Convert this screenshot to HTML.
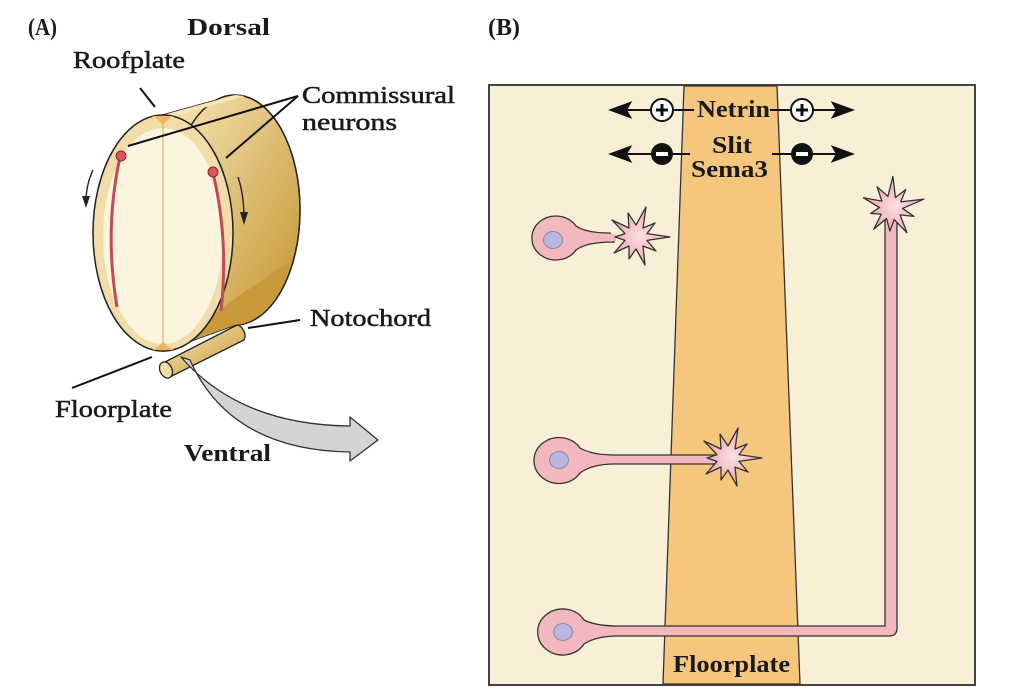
<!DOCTYPE html>
<html><head><meta charset="utf-8"><style>
html,body{margin:0;padding:0;background:#fff}
svg{display:block}
text{font-family:"Liberation Serif",serif;fill:#1a1a1a}
.n{stroke:#1a1a1a;stroke-width:0.5}
</style></head><body>
<svg width="1013" height="691" viewBox="0 0 1013 691" xmlns="http://www.w3.org/2000/svg">
<defs>
<linearGradient id="side" x1="0" y1="0" x2="1" y2="1">
<stop offset="0" stop-color="#f6e6b8"/><stop offset="1" stop-color="#c4942e"/></linearGradient>
<linearGradient id="noto" x1="0" y1="0" x2="1" y2="1">
<stop offset="0" stop-color="#f7e6b5"/><stop offset="1" stop-color="#c79a3a"/></linearGradient>
<radialGradient id="gc"><stop offset="0" stop-color="#fbe0e2"/><stop offset="1" stop-color="#eea6ad"/></radialGradient>
<g id="star"><path d="M34,0 L11,3.4 L20,14 L7,9 L9,28 L0,12 L-7,22 L-7,9 L-22,16 L-11,3.4 L-21,0 L-11,-3.4 L-24,-17 L-7,-9 L-8,-24 L0,-12 L10,-30 L7,-9 L19,-14 L11,-3.4 Z" fill="url(#gc)" stroke="#333" stroke-width="1.3" stroke-linejoin="round"/></g>
</defs>

<g font-size="24">
<text x="28" y="35" font-weight="bold" textLength="29" lengthAdjust="spacingAndGlyphs">(A)</text>
<text x="187" y="35" font-weight="bold" textLength="83" lengthAdjust="spacingAndGlyphs">Dorsal</text>
<text class="n" x="73" y="68" textLength="112" lengthAdjust="spacingAndGlyphs">Roofplate</text>
<text class="n" x="302" y="103" textLength="153" lengthAdjust="spacingAndGlyphs">Commissural</text>
<text class="n" x="302" y="130" textLength="95" lengthAdjust="spacingAndGlyphs">neurons</text>
<text class="n" x="310" y="326" textLength="121" lengthAdjust="spacingAndGlyphs">Notochord</text>
<text class="n" x="55" y="417" textLength="117" lengthAdjust="spacingAndGlyphs">Floorplate</text>
<text x="184" y="461" font-weight="bold" textLength="87" lengthAdjust="spacingAndGlyphs">Ventral</text>
</g>

<path d="M163,115 L235,95 A65,115 0 0 1 235,325 L163,351 Z" fill="url(#side)" stroke="#222" stroke-width="1.5"/>
<ellipse cx="235" cy="210" rx="65" ry="115" fill="url(#side)" stroke="#222" stroke-width="1.5"/>
<path d="M163,115 L235,95 L245,96 L175,116 Z" fill="#f6e6b8"/>
<path d="M163,351 L235,325 A65,115 0 0 0 292,260 L233,300 Z" fill="#c8993a"/>
<ellipse cx="163" cy="233" rx="70" ry="118" fill="#f2ddaa" stroke="#222" stroke-width="1.5"/>
<ellipse cx="163" cy="236" rx="60" ry="108" fill="#fdf4df"/>
<line x1="163" y1="126" x2="163" y2="342" stroke="#c9a25a" stroke-width="1"/>
<path d="M152,116 Q163,122 163,128 Q163,122 174,116 Z" fill="#f3b65f"/>
<path d="M152,350 Q163,344 163,340 Q163,344 174,350 Z" fill="#f3b65f"/>
<path d="M120,157 Q104,230 117,307" fill="none" stroke="#c04b55" stroke-width="3"/>
<circle cx="121" cy="156" r="5" fill="#d9585f" stroke="#8a2a30"/>
<path d="M213,173 Q229,240 221,311" fill="none" stroke="#c04b55" stroke-width="3"/>
<circle cx="213" cy="172" r="5" fill="#d9585f" stroke="#8a2a30"/>
<path d="M93,170 Q86,185 86,202" fill="none" stroke="#222" stroke-width="1.4"/>
<path d="M82,196 L86,208 L90,196 Z" fill="#222"/>
<path d="M238,177 Q244,195 244,218" fill="none" stroke="#222" stroke-width="1.4"/>
<path d="M240,212 L244,225 L248,212 Z" fill="#222"/>
<line x1="140" y1="88" x2="155" y2="107" stroke="#111" stroke-width="2"/>
<line x1="298" y1="96" x2="128" y2="146" stroke="#111" stroke-width="2"/>
<line x1="298" y1="96" x2="226" y2="158" stroke="#111" stroke-width="2"/>
<line x1="248" y1="328" x2="300" y2="320" stroke="#111" stroke-width="2"/>
<line x1="72" y1="388" x2="152" y2="357" stroke="#111" stroke-width="2"/>
<path d="M163,363 L237,325 A6,9 -25 0 1 244,340 L170,377 Z" fill="url(#noto)" stroke="#222" stroke-width="1.3"/>
<ellipse cx="166" cy="370" rx="6" ry="8.5" transform="rotate(-25 166 370)" fill="#f1dca4" stroke="#222" stroke-width="1.3"/>
<path d="M181,357 Q240,425 350,426 L350,417 L378,440 L350,461 L350,452 Q230,450 190,360 Z" fill="#d4d4d6" stroke="#333" stroke-width="1.3" stroke-linejoin="round"/>

<text x="488" y="35" font-size="24" font-weight="bold" textLength="32" lengthAdjust="spacingAndGlyphs">(B)</text>
<rect x="489" y="85" width="486" height="600" fill="#f9efd6" stroke="#444" stroke-width="2"/>
<path d="M684,86 L777,86 L800,684 L663,684 Z" fill="#f5c77e" stroke="#333" stroke-width="1.3"/>
<g font-size="24" font-weight="bold">
<text x="697" y="117" textLength="73" lengthAdjust="spacingAndGlyphs">Netrin</text>
<text x="712" y="153" textLength="40" lengthAdjust="spacingAndGlyphs">Slit</text>
<text x="691" y="177" textLength="77" lengthAdjust="spacingAndGlyphs">Sema3</text>
<text x="673" y="672" textLength="117" lengthAdjust="spacingAndGlyphs">Floorplate</text>
</g>
<g stroke="#111" stroke-width="2" fill="#111">
<line x1="622" y1="110" x2="694" y2="110"/>
<path d="M611,110 L630,103 L626,110 L630,117 Z"/>
<line x1="770" y1="110" x2="840" y2="110"/>
<path d="M852,110 L833,103 L837,110 L833,117 Z"/>
<line x1="622" y1="154" x2="690" y2="154"/>
<path d="M611,154 L630,147 L626,154 L630,161 Z"/>
<line x1="772" y1="154" x2="840" y2="154"/>
<path d="M852,154 L833,147 L837,154 L833,161 Z"/>
</g>
<circle cx="662" cy="110" r="11" fill="#fff" stroke="#111" stroke-width="2"/>
<rect x="656" y="108.5" width="12" height="3" fill="#111"/><rect x="660.5" y="104" width="3" height="12" fill="#111"/>
<circle cx="802" cy="110" r="11" fill="#fff" stroke="#111" stroke-width="2"/>
<rect x="796" y="108.5" width="12" height="3" fill="#111"/><rect x="800.5" y="104" width="3" height="12" fill="#111"/>
<circle cx="662" cy="154" r="11" fill="#111"/>
<rect x="656" y="152" width="12" height="4" fill="#fff"/>
<circle cx="802" cy="154" r="11" fill="#111"/>
<rect x="796" y="152" width="12" height="4" fill="#fff"/>

<g fill="#f2b8bd" stroke="#333" stroke-width="1.3">
<path d="M576,226 Q586,233 610,233 L614,242 Q586,242 576,250 A24,22 0 1 1 576,226 Z"/>
<path d="M580,448 Q592,455 615,455 L715,455 L715,464 L615,464 Q592,464 580,473 A25,23 0 1 1 580,448 Z"/>
<path d="M584,620 Q596,626 618,626 L885,626 L885,220 L897,220 L897,628 Q897,636 889,636 L618,636 Q596,636 584,644 A25,23 0 1 1 584,620 Z"/>
</g>
<g fill="#f2b8bd"><rect x="600" y="234" width="16" height="7"/><rect x="700" y="456" width="20" height="7"/><rect x="886" y="215" width="10" height="15"/></g>
<ellipse cx="553" cy="240" rx="9.5" ry="8.5" fill="#b8b6de" stroke="#8a88b0"/>
<ellipse cx="559" cy="460" rx="9.5" ry="8.5" fill="#b8b6de" stroke="#8a88b0"/>
<ellipse cx="563" cy="632" rx="9.5" ry="8.5" fill="#b8b6de" stroke="#8a88b0"/>
<use href="#star" transform="translate(636,237)"/>
<use href="#star" transform="translate(728,458)"/>
<use href="#star" transform="translate(891,208) rotate(-15)"/>
</svg>
</body></html>
